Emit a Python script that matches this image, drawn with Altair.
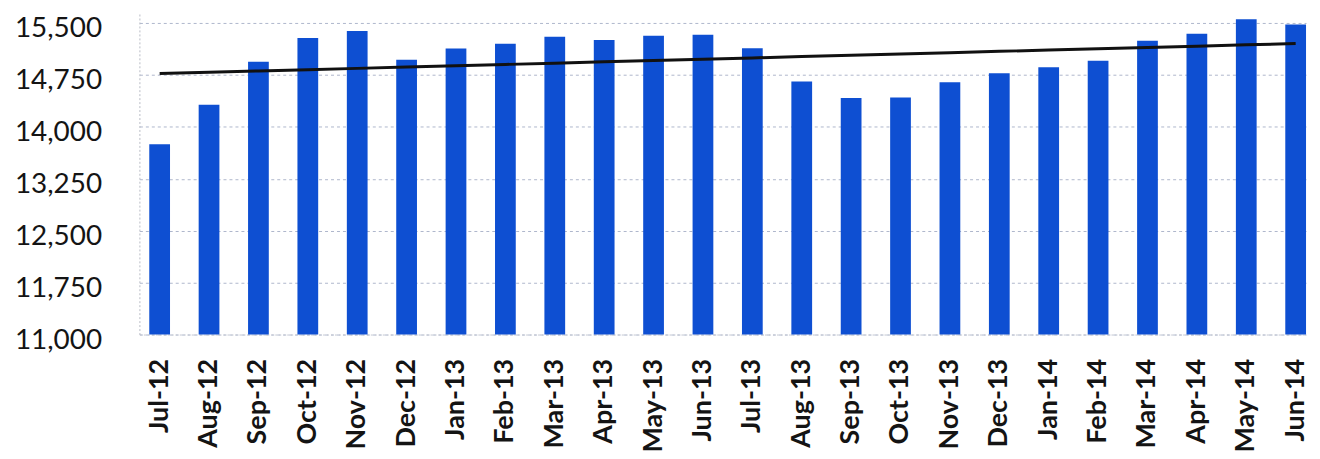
import altair as alt
import numpy as np
import pandas as pd

months = ["Jul-12", "Aug-12", "Sep-12", "Oct-12", "Nov-12", "Dec-12",
          "Jan-13", "Feb-13", "Mar-13", "Apr-13", "May-13", "Jun-13",
          "Jul-13", "Aug-13", "Sep-13", "Oct-13", "Nov-13", "Dec-13",
          "Jan-14", "Feb-14", "Mar-14", "Apr-14", "May-14", "Jun-14"]
values = [13750, 14320, 14940, 15285, 15385, 14970,
          15130, 15200, 15300, 15255, 15315, 15330,
          15135, 14655, 14415, 14425, 14645, 14775,
          14860, 14955, 15245, 15345, 15555, 15480]
y_ticks = [11000, 11750, 12500, 13250, 14000, 14750, 15500]

# linear trendline (least squares), as in the spreadsheet chart
idx = np.arange(len(values))
slope, intercept = np.polyfit(idx, values, 1)
trend = intercept + slope * idx

df = pd.DataFrame({"month": months, "value": values, "trend": trend})

x_enc = alt.X(
    "month:N", sort=months, title=None,
    scale=alt.Scale(paddingInner=0.58, paddingOuter=0.1, align=1),
    axis=alt.Axis(labelAngle=-90, labelFont="Lato", labelFontWeight="bold",
                  labelFontSize=27, labelColor="#141414", labelPadding=24,
                  ticks=False, domain=True, domainColor="#c4c8d2",
                  domainDash=[2, 2], labelOverlap=False),
)
y_scale = alt.Scale(domain=[11000, 15630], zero=False, nice=False)
y_axis = alt.Axis(values=y_ticks, labelExpr="format(datum.value, ',')",
                  labelFont="Lato", labelFontSize=28, labelOffset=6,
                  labelColor="#141414", labelPadding=38, ticks=False,
                  domain=True, domainColor="#b8bcc6", domainDash=[2, 2],
                  grid=True, gridColor="#aeb6cc", gridDash=[3, 3], gridWidth=1)

base = alt.Chart(df)
bars = base.mark_bar(color="#0e4fd2").encode(
    x=x_enc,
    y=alt.Y("value:Q", title=None, scale=y_scale, axis=y_axis),
    y2=alt.datum(11000),
)
line = base.mark_line(color="#111111", strokeWidth=3).encode(
    x=x_enc,
    y=alt.Y("trend:Q", title=None, scale=y_scale, axis=y_axis),
)

chart = (
    alt.layer(bars, line)
    .properties(width=1172, height=322, autosize="none",
                padding={"left": 132, "top": 5, "right": 6, "bottom": 118},
                background="white")
    .configure_view(stroke=None)
)

chart.save("out.html", embed_options={"renderer": "svg", "actions": False})
